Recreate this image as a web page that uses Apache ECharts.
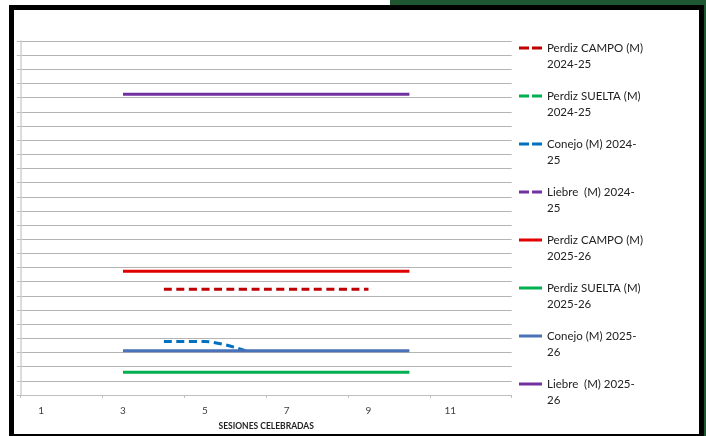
<!DOCTYPE html>
<html>
<head>
<meta charset="utf-8">
<script src="https://cdn.jsdelivr.net/npm/echarts@6/dist/echarts.min.js"></script>
<style>
  html, body { margin: 0; padding: 0; background: #ffffff; }
  #wrap { position: relative; width: 706px; height: 436px; overflow: hidden; background: #ffffff; }
  .blk { position: absolute; }
  #chart { position: absolute; left: 0; top: 0; width: 706px; height: 436px; }
</style>
</head>
<body>
<div id="wrap">
  <div class="blk" style="left:390px;top:0;width:316px;height:5px;background:#1f5733;"></div>
  <div class="blk" style="left:704px;top:0;width:2px;height:436px;background:#1f5733;"></div>
  <div class="blk" style="left:9px;top:5px;width:695px;height:431px;background:#000;"></div>
  <div class="blk" style="left:14px;top:10px;width:685px;height:424px;background:#fff;"></div>
  <div id="chart"></div>
</div>
<script>
// ---- data ----
var categories = ['1','2','3','4','5','6','7','8','9','10','11','12'];

var seriesNames = [
  'Perdiz CAMPO (M) 2024-25',
  'Perdiz SUELTA (M) 2024-25',
  'Conejo (M) 2024-25',
  'Liebre  (M) 2024-25',
  'Perdiz CAMPO (M) 2025-26',
  'Perdiz SUELTA (M) 2025-26',
  'Conejo (M) 2025-26',
  'Liebre  (M) 2025-26'
];

var legendLabels = [
  'Perdiz CAMPO (M)\n2024-25',
  'Perdiz SUELTA (M)\n2024-25',
  'Conejo (M) 2024-\n25',
  'Liebre  (M) 2024-\n25',
  'Perdiz CAMPO (M)\n2025-26',
  'Perdiz SUELTA (M)\n2025-26',
  'Conejo (M) 2025-\n26',
  'Liebre  (M) 2025-\n26'
];

var perdizCampo2425  = [null, null, null, 7.47, 7.47, 7.47, 7.47, 7.47, 7.47, null, null, null];
var perdizSuelta2425 = [null, null, null, null, null, null, null, null, null, null, null, null];
var conejo2425       = [null, null, null, 3.77, 3.77, 3.12, null, null, null, null, null, null];
var liebre2425       = [null, null, null, null, null, null, null, null, null, null, null, null];
var perdizCampo2526  = [null, null, 8.74, 8.74, 8.74, 8.74, 8.74, 8.74, 8.74, 8.74, null, null];
var perdizSuelta2526 = [null, null, 1.6, 1.6, 1.6, 1.6, 1.6, 1.6, 1.6, 1.6, null, null];
var conejo2526       = [null, null, 3.12, 3.12, 3.12, 3.12, 3.12, 3.12, 3.12, 3.12, null, null];
var liebre2526       = [null, null, 21.24, 21.24, 21.24, 21.24, 21.24, 21.24, 21.24, 21.24, null, null];

var seriesData = [perdizCampo2425, perdizSuelta2425, conejo2425, liebre2425,
                  perdizCampo2526, perdizSuelta2526, conejo2526, liebre2526];
var seriesColors = ['#c00000', '#00b050', '#0070c0', '#7030a0',
                    '#e00000', '#00b050', '#4a72b8', '#7030a0'];
var dashed = [true, true, true, true, false, false, false, false];

var FONT = 'Lato, "Liberation Sans", sans-serif';
var ICON_DASHED = 'path://M0,0h10v3h-10z M13,0h10v3h-10z';
var ICON_SOLID = 'path://M0,0h23v3h-23z';

var series = seriesNames.map(function (name, i) {
  return {
    name: name,
    type: 'line',
    data: seriesData[i],
    symbol: 'none',
    smooth: dashed[i] ? 0.35 : false,
    connectNulls: false,
    z: dashed[i] ? 2 : 3,
    color: seriesColors[i],
    itemStyle: { color: seriesColors[i] },
    lineStyle: {
      color: seriesColors[i],
      width: 3,
      type: dashed[i] ? [8, 4.5] : 'solid',
      cap: 'butt'
    },
    emphasis: { disabled: true },
    animation: false
  };
});

var legendData = seriesNames.map(function (name, i) {
  return { name: name, icon: dashed[i] ? ICON_DASHED : ICON_SOLID };
});

var chart = echarts.init(document.getElementById('chart'), null, { renderer: 'canvas' });
chart.setOption({
  backgroundColor: 'transparent',
  animation: false,
  grid: { left: 20.7, right: 194.3, top: 41, bottom: 39, containLabel: false },
  xAxis: {
    type: 'category',
    data: categories,
    boundaryGap: true,
    name: 'SESIONES CELEBRADAS',
    nameLocation: 'middle',
    nameGap: 27,
    nameTextStyle: { fontFamily: FONT, fontSize: 8.5, fontWeight: 'bold', color: '#222222' },
    axisLine: { lineStyle: { color: '#bfbfbf', width: 1 } },
    axisTick: { show: true, length: 3, lineStyle: { color: '#bfbfbf' } },
    axisLabel: { interval: 1, fontFamily: FONT, fontSize: 10, color: '#404040', margin: 11 },
    splitLine: { show: false }
  },
  yAxis: {
    type: 'value',
    min: 0,
    max: 25,
    interval: 1,
    axisLine: { show: true, lineStyle: { color: '#d0d0d0', width: 1.5 } },
    axisTick: { show: true, length: 4, lineStyle: { color: '#bfbfbf' } },
    axisLabel: { show: false },
    splitLine: { show: true, lineStyle: { color: '#b4b4b4', width: 1 } }
  },
  legend: {
    orient: 'vertical',
    left: 519,
    top: 24,
    padding: 0,
    itemGap: 0,
    itemWidth: 23,
    itemHeight: 3,
    selectedMode: false,
    data: legendData,
    formatter: function (name) { return ' \n' + legendLabels[seriesNames.indexOf(name)]; },
    textStyle: {
      fontFamily: FONT,
      fontSize: 11.5,
      lineHeight: 16,
      color: '#222222'
    }
  },
  series: series
});
</script>
</body>
</html>
